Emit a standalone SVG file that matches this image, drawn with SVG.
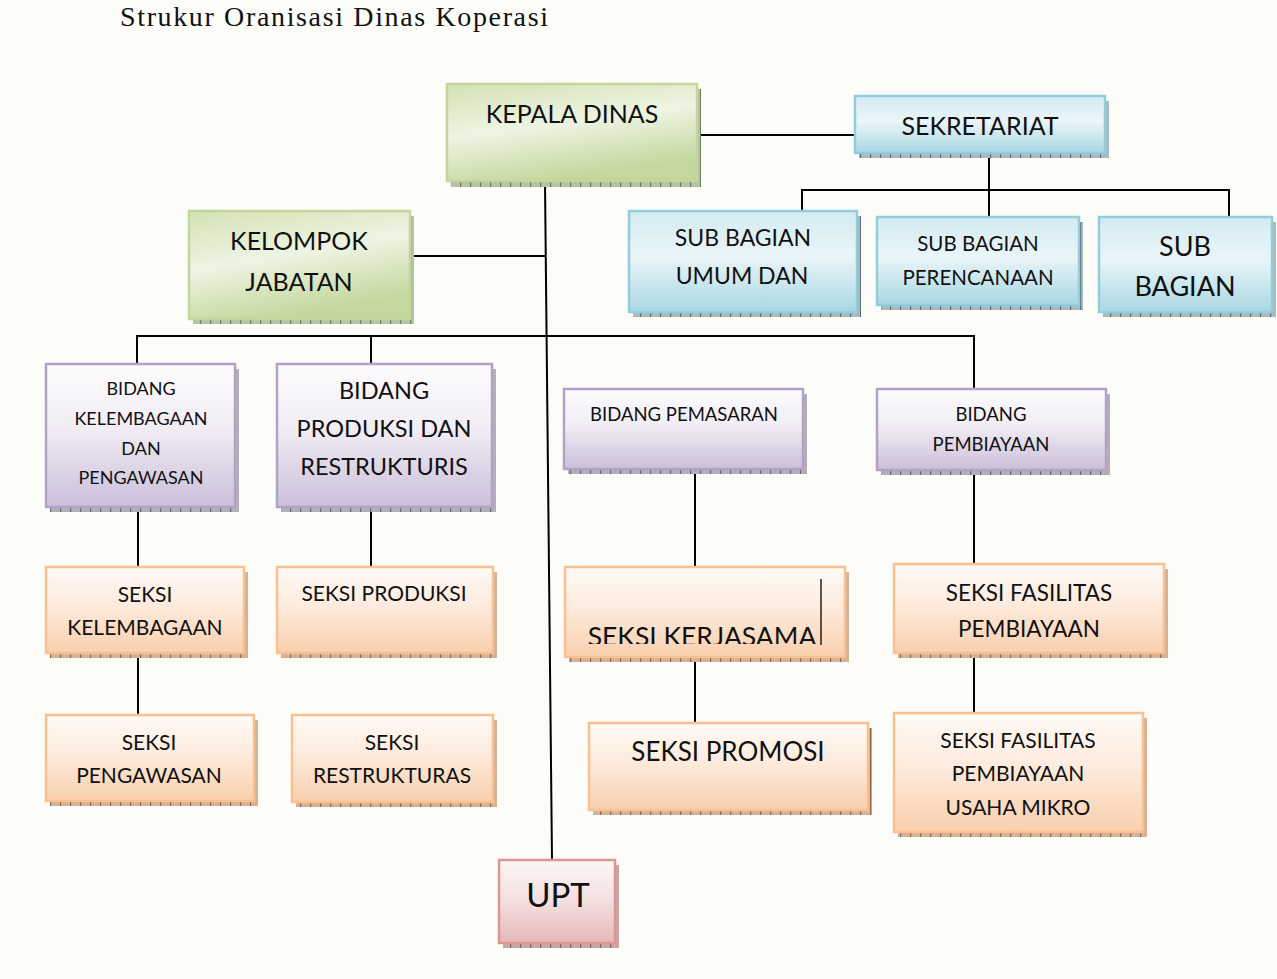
<svg xmlns="http://www.w3.org/2000/svg" width="1277" height="979" viewBox="0 0 1277 979">
<style>
  text { font-family: Lato, "Open Sans", "Liberation Sans", sans-serif; fill: #111; text-anchor: middle; }
  .title { font-family: "Liberation Serif", serif; font-size: 28px; text-anchor: start; fill: #111; }
  .conn line, .conn polyline { stroke: #000; stroke-width: 2; fill: none; }
  .g { fill: url(#gGreen); stroke: #c3d69b; stroke-width: 2.5; }
  .b { fill: url(#gBlue); stroke: #93cddd; stroke-width: 2.5; }
  .p { fill: url(#gPurple); stroke: #b3a2c7; stroke-width: 2.5; }
  .o { fill: url(#gOrange); stroke: #fac08f; stroke-width: 2.5; }
  .r { fill: url(#gRed); stroke: #d99694; stroke-width: 2.5; }
  .sg { fill: url(#shG); } .sb { fill: url(#shB); } .sp { fill: url(#shP); } .so { fill: url(#shO); } .sr { fill: url(#shR); }
</style>
<defs>
  <linearGradient id="gGreen" x1="0" y1="0" x2="0.35" y2="1">
    <stop offset="0" stop-color="#d3e2b4"/>
    <stop offset="0.5" stop-color="#eef4e3"/>
    <stop offset="1" stop-color="#c4d89e"/>
  </linearGradient>
  <linearGradient id="gBlue" x1="0" y1="0" x2="0" y2="1">
    <stop offset="0" stop-color="#d3ebf2"/>
    <stop offset="0.45" stop-color="#eaf5f8"/>
    <stop offset="1" stop-color="#a8d7e3"/>
  </linearGradient>
  <linearGradient id="gPurple" x1="0" y1="0" x2="0" y2="1">
    <stop offset="0" stop-color="#fdfcfd"/>
    <stop offset="0.45" stop-color="#f1edf5"/>
    <stop offset="1" stop-color="#cbbfd9"/>
  </linearGradient>
  <linearGradient id="gOrange" x1="0" y1="0" x2="0" y2="1">
    <stop offset="0" stop-color="#fffaf6"/>
    <stop offset="0.45" stop-color="#fdebdd"/>
    <stop offset="1" stop-color="#f9cfad"/>
  </linearGradient>
  <linearGradient id="gRed" x1="0" y1="0" x2="0" y2="1">
    <stop offset="0" stop-color="#fdf7f7"/>
    <stop offset="0.5" stop-color="#f4dede"/>
    <stop offset="1" stop-color="#e4b8b7"/>
  </linearGradient>
  <pattern id="shG" width="10" height="4" patternUnits="userSpaceOnUse">
    <rect width="10" height="4" fill="#b7c2a6"/><rect x="0" width="1.2" height="4" fill="#6e7a5c"/>
  </pattern>
  <pattern id="shB" width="10" height="4" patternUnits="userSpaceOnUse">
    <rect width="10" height="4" fill="#a9b9bf"/><rect x="0" width="1.2" height="4" fill="#5d6f76"/>
  </pattern>
  <pattern id="shP" width="10" height="4" patternUnits="userSpaceOnUse">
    <rect width="10" height="4" fill="#b3afb8"/><rect x="0" width="1.2" height="4" fill="#6a6470"/>
  </pattern>
  <pattern id="shO" width="10" height="4" patternUnits="userSpaceOnUse">
    <rect width="10" height="4" fill="#d2b29a"/><rect x="0" width="1.2" height="4" fill="#8f6a4f"/>
  </pattern>
  <pattern id="shR" width="10" height="4" patternUnits="userSpaceOnUse">
    <rect width="10" height="4" fill="#c9a7a6"/><rect x="0" width="1.2" height="4" fill="#875c5b"/>
  </pattern>
  <clipPath id="clipKerja">
    <rect x="566" y="569" width="278" height="75"/>
  </clipPath>
</defs>

<rect width="1277" height="979" fill="#fcfcf8"/>

<text class="title" x="120" y="26" textLength="428" lengthAdjust="spacing">Strukur Oranisasi Dinas Koperasi</text>

<g id="connectors" class="conn">
  <line x1="697" y1="135" x2="855" y2="135"/>
  <line x1="989" y1="153" x2="989" y2="217"/>
  <polyline points="802,211 802,190 1229,190 1229,217"/>
  <line x1="545" y1="183" x2="552" y2="860"/>
  <line x1="410" y1="256" x2="545" y2="256"/>
  <polyline points="137,364 137,336 974,336 974,389"/>
  <line x1="371" y1="336" x2="371" y2="364"/>
  <line x1="138" y1="507" x2="138" y2="567"/>
  <line x1="371" y1="507" x2="371" y2="567"/>
  <line x1="695" y1="469" x2="695" y2="567"/>
  <line x1="974" y1="470" x2="974" y2="564"/>
  <line x1="138" y1="653" x2="138" y2="715"/>
  <line x1="695" y1="657" x2="695" y2="723"/>
  <line x1="974" y1="653" x2="974" y2="713"/>
</g>

<g id="kepala-dinas">
  <rect class="sg" x="451" y="89" width="250" height="98"/>
  <rect class="g" x="447" y="84" width="250" height="97"/>
  <text x="572" y="123" font-size="25">KEPALA DINAS</text>
</g>

<g id="sekretariat">
  <rect class="sb" x="859" y="101" width="250" height="57"/>
  <rect class="b" x="855" y="96" width="250" height="57"/>
  <text x="980" y="135" font-size="25">SEKRETARIAT</text>
</g>

<g id="sub-bagian-umum">
  <rect class="sb" x="633" y="216" width="228" height="101"/>
  <rect class="b" x="629" y="211" width="228" height="101"/>
  <text x="743" y="246" font-size="23">SUB BAGIAN</text>
  <text x="742" y="284" font-size="23">UMUM DAN</text>
</g>

<g id="sub-bagian-perencanaan">
  <rect class="sb" x="881" y="222" width="202" height="88"/>
  <rect class="b" x="877" y="217" width="202" height="88"/>
  <text x="978" y="251" font-size="20.5">SUB BAGIAN</text>
  <text x="978" y="285" font-size="20.5">PERENCANAAN</text>
</g>

<g id="sub-bagian">
  <rect class="sb" x="1103" y="222" width="173" height="95"/>
  <rect class="b" x="1099" y="217" width="173" height="95"/>
  <text x="1185" y="256" font-size="27">SUB</text>
  <text x="1185" y="296" font-size="27">BAGIAN</text>
</g>

<g id="kelompok-jabatan">
  <rect class="sg" x="193" y="216" width="221" height="108"/>
  <rect class="g" x="189" y="211" width="221" height="108"/>
  <text x="299" y="250" font-size="25">KELOMPOK</text>
  <text x="299" y="291" font-size="25">JABATAN</text>
</g>

<g id="bidang-kelembagaan">
  <rect class="sp" x="50" y="369" width="189" height="143"/>
  <rect class="p" x="46" y="364" width="189" height="143"/>
  <text x="141" y="395" font-size="18">BIDANG</text>
  <text x="141" y="425" font-size="18">KELEMBAGAAN</text>
  <text x="141" y="455" font-size="18">DAN</text>
  <text x="141" y="484" font-size="18">PENGAWASAN</text>
</g>

<g id="bidang-produksi">
  <rect class="sp" x="281" y="369" width="215" height="143"/>
  <rect class="p" x="277" y="364" width="215" height="143"/>
  <text x="384" y="399" font-size="23.5">BIDANG</text>
  <text x="384" y="437" font-size="23.5">PRODUKSI DAN</text>
  <text x="384" y="475" font-size="23.5">RESTRUKTURIS</text>
</g>

<g id="bidang-pemasaran">
  <rect class="sp" x="568" y="394" width="239" height="80"/>
  <rect class="p" x="564" y="389" width="239" height="80"/>
  <text x="684" y="421" font-size="18.5">BIDANG PEMASARAN</text>
</g>

<g id="bidang-pembiayaan">
  <rect class="sp" x="881" y="394" width="229" height="81"/>
  <rect class="p" x="877" y="389" width="229" height="81"/>
  <text x="991" y="421" font-size="18.5">BIDANG</text>
  <text x="991" y="451" font-size="18.5">PEMBIAYAAN</text>
</g>

<g id="seksi-kelembagaan">
  <rect class="so" x="50" y="572" width="198" height="86"/>
  <rect class="o" x="46" y="567" width="198" height="86"/>
  <text x="145" y="602" font-size="21">SEKSI</text>
  <text x="145" y="635" font-size="21">KELEMBAGAAN</text>
</g>

<g id="seksi-produksi">
  <rect class="so" x="281" y="572" width="216" height="86"/>
  <rect class="o" x="277" y="567" width="216" height="86"/>
  <text x="384" y="601" font-size="21">SEKSI PRODUKSI</text>
</g>

<g id="seksi-kerjasama">
  <rect class="so" x="569" y="572" width="280" height="90"/>
  <rect class="o" x="565" y="567" width="280" height="90"/>
  <text x="702" y="646" font-size="26.5" clip-path="url(#clipKerja)">SEKSI KERJASAMA</text>
  <line x1="821" y1="579" x2="821" y2="645" stroke="#222" stroke-width="1.5"/>
</g>

<g id="seksi-fasilitas-pembiayaan">
  <rect class="so" x="898" y="569" width="270" height="89"/>
  <rect class="o" x="894" y="564" width="270" height="89"/>
  <text x="1029" y="601" font-size="22.5">SEKSI FASILITAS</text>
  <text x="1029" y="637" font-size="22.5">PEMBIAYAAN</text>
</g>

<g id="seksi-pengawasan">
  <rect class="so" x="50" y="720" width="208" height="86"/>
  <rect class="o" x="46" y="715" width="208" height="86"/>
  <text x="149" y="750" font-size="21">SEKSI</text>
  <text x="149" y="783" font-size="21">PENGAWASAN</text>
</g>

<g id="seksi-restrukturas">
  <rect class="so" x="296" y="720" width="201" height="87"/>
  <rect class="o" x="292" y="715" width="201" height="87"/>
  <text x="392" y="750" font-size="21">SEKSI</text>
  <text x="392" y="783" font-size="21">RESTRUKTURAS</text>
</g>

<g id="seksi-promosi">
  <rect class="so" x="593" y="728" width="279" height="87"/>
  <rect class="o" x="589" y="723" width="279" height="87"/>
  <text x="728" y="761" font-size="26">SEKSI PROMOSI</text>
</g>

<g id="seksi-fasilitas-mikro">
  <rect class="so" x="898" y="718" width="249" height="119"/>
  <rect class="o" x="894" y="713" width="249" height="119"/>
  <text x="1018" y="748" font-size="21">SEKSI FASILITAS</text>
  <text x="1018" y="781" font-size="21">PEMBIAYAAN</text>
  <text x="1018" y="815" font-size="21">USAHA MIKRO</text>
</g>

<g id="upt">
  <rect class="sr" x="503" y="865" width="116" height="83"/>
  <rect class="r" x="499" y="860" width="116" height="83"/>
  <text x="558" y="907" font-size="33">UPT</text>
</g>
</svg>
